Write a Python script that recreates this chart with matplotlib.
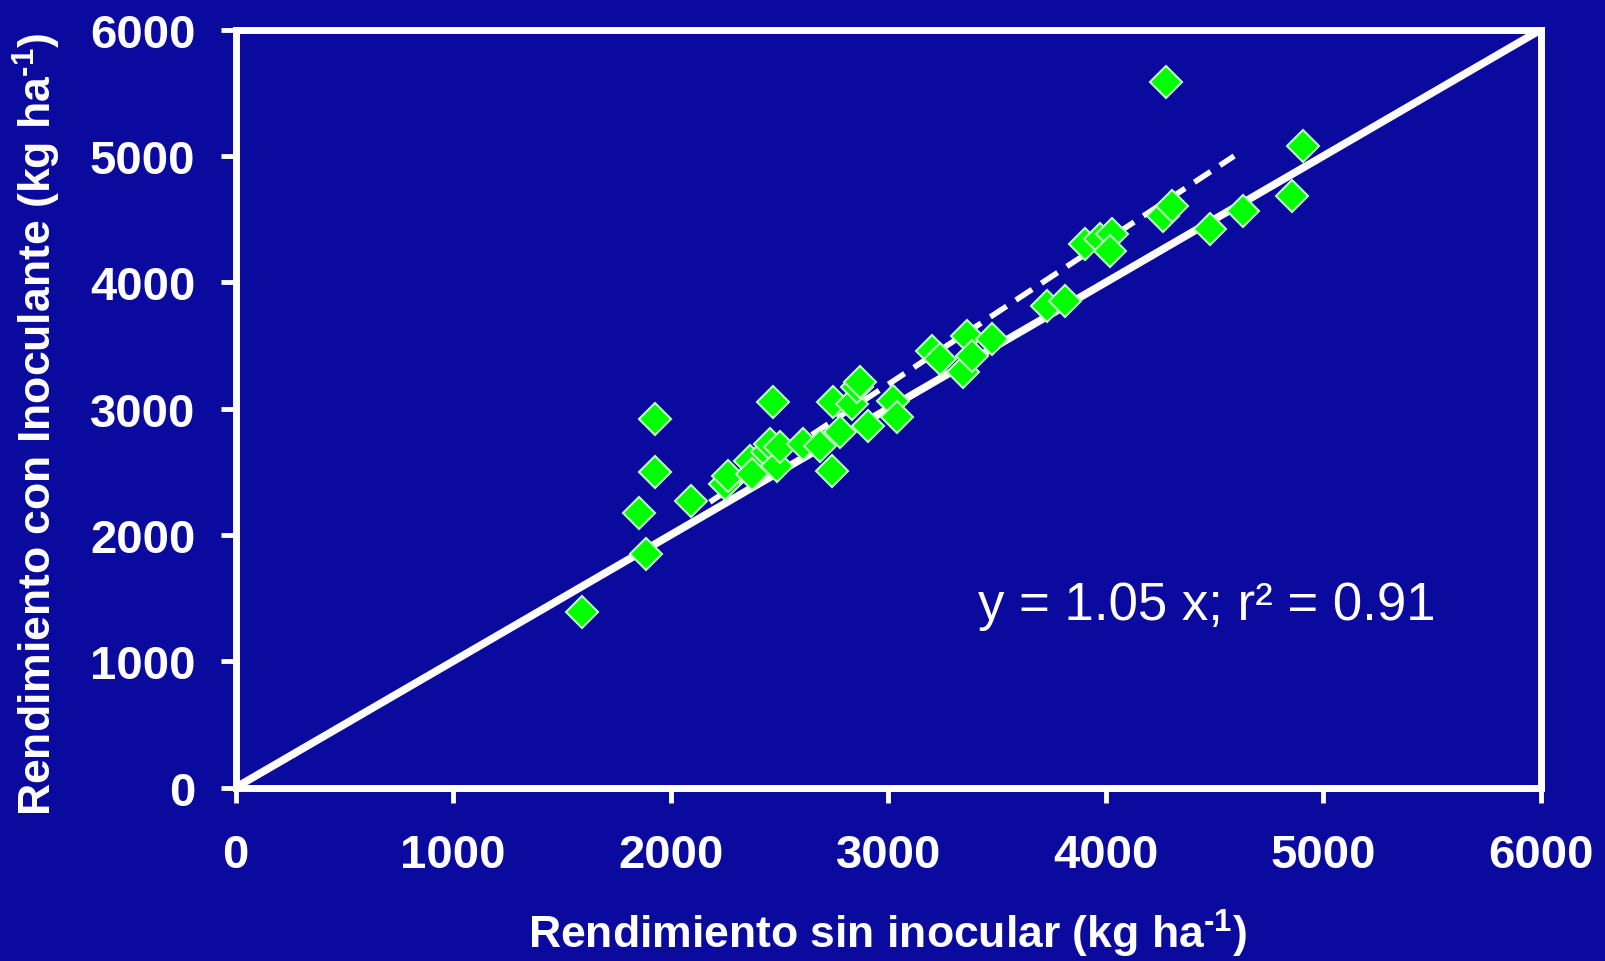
import matplotlib
matplotlib.use("Agg")
import matplotlib.pyplot as plt

# ---- data ----
x_sin = [1591, 1856, 1886, 1928, 1928, 2092, 2249, 2265, 2364, 2372, 2441, 2456,
         2487, 2502, 2471, 2609, 2686, 2740, 2747, 2778, 2832, 2855, 2870, 2908,
         3023, 3039, 3199, 3238, 3345, 3360, 3383, 3475, 3728, 3812, 3904, 3973,
         4027, 4019, 4264, 4302, 4275, 4479, 4632, 4854, 4907]
y_con = [1388, 2171, 1849, 2918, 2501, 2271, 2403, 2469, 2588, 2483, 2654, 2720,
         2548, 2694, 3050, 2720, 2707, 2509, 3050, 2813, 3037, 3169, 3209, 2865,
         3063, 2931, 3459, 3393, 3287, 3577, 3419, 3551, 3815, 3855, 4303, 4343,
         4383, 4250, 4527, 4607, 5583, 4422, 4567, 4686, 5082]
line11_x = [0, 6000]
line11_y = [0, 6000]
fit_x = [2180, 4590]
fit_y = [2260, 5000]
ticks = [0, 1000, 2000, 3000, 4000, 5000, 6000]
xlabel = r"Rendimiento sin inocular (kg ha$^{\text{-1}}$)"
ylabel = r"Rendimiento con Inoculante (kg ha$^{\text{-1}}$)"
eq_text = "y = 1.05 x; r² = 0.91"

BG = "#0a0a9e"
WHITE = "white"

plt.rcParams['font.family'] = ['Liberation Sans', 'DejaVu Sans']
plt.rcParams['mathtext.fontset'] = 'custom'
plt.rcParams['mathtext.rm'] = 'Liberation Sans:bold'
plt.rcParams['mathtext.it'] = 'Liberation Sans:bold'
plt.rcParams['mathtext.bf'] = 'Liberation Sans:bold'

fig = plt.figure(figsize=(16.06, 9.62), dpi=100, facecolor=BG)
ax = fig.add_axes([0.1467, 0.1803, 0.9595 - 0.1467, 0.9681 - 0.1803])
ax.set_facecolor(BG)

ax.plot(line11_x, line11_y, color=WHITE, lw=5.5, solid_capstyle='butt', zorder=2)
ax.plot(fit_x, fit_y, color=WHITE, lw=4, dashes=(3.5, 2), zorder=2)
ax.plot(x_sin, y_con, linestyle='none', marker='D', ms=16.5, mfc='#00ff00',
        mec='#c0ffc0', mew=1.5, zorder=3)

ax.text(3412, 1335, eq_text, color=WHITE, fontsize=38, ha='left', va='baseline')

ax.set_xlim(0, 6000)
ax.set_ylim(0, 6000)
ax.set_xticks(ticks)
ax.set_yticks(ticks)
ax.set_xticklabels([str(t) for t in ticks], fontweight='bold', fontsize=34, color=WHITE)
ax.set_yticklabels([str(t) for t in ticks], fontweight='bold', fontsize=34, color=WHITE)
ax.tick_params(axis='both', direction='out', length=11, width=3.5, color=WHITE)
ax.tick_params(axis='x', pad=22)
ax.tick_params(axis='y', pad=18)

for s in ax.spines.values():
    s.set_color(WHITE)
    s.set_linewidth(5)

ax.set_xlabel(xlabel, fontweight='bold', fontsize=32, color=WHITE)
ax.set_ylabel(ylabel, fontweight='bold', fontsize=32, color=WHITE)
ax.xaxis.set_label_coords(0.499, -0.158)
ax.yaxis.set_label_coords(-0.132, 0.48)

fig.savefig("out.png", dpi=100, facecolor=BG)
